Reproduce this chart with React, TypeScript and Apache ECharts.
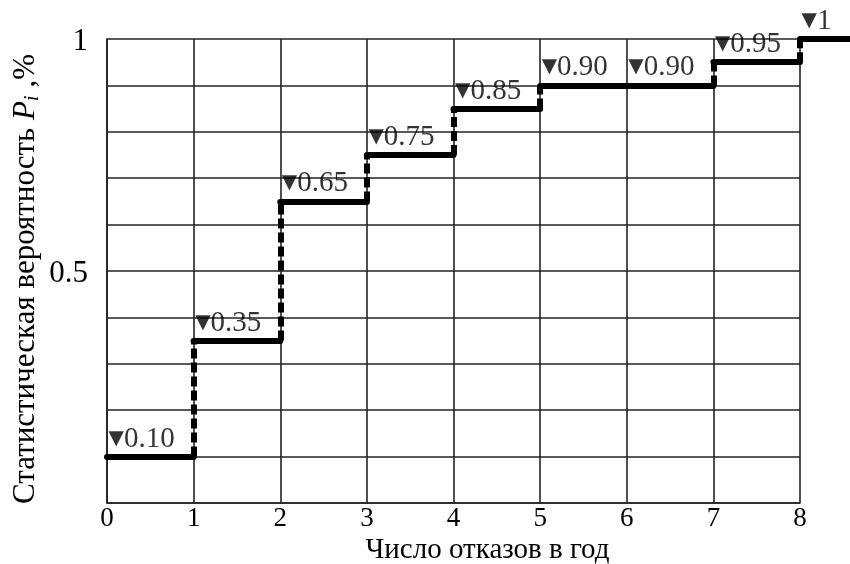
import React, { useEffect, useRef } from "react";
import * as echarts from "echarts";

const failureCounts = [0, 1, 2, 3, 4, 5, 6, 7, 8];
const probabilities = [0.1, 0.35, 0.65, 0.75, 0.85, 0.9, 0.9, 0.95, 1];
const valueLabels = ["0.10", "0.35", "0.65", "0.75", "0.85", "0.90", "0.90", "0.95", "1"];
const lastStepEnd = 8.6;
const xTitle = "Число отказов в год";

const FONT = "'Liberation Serif', 'Times New Roman', serif";

export default function App() {
  const ref = useRef<HTMLDivElement>(null);
  useEffect(() => {
    if (!ref.current) return;
    const chart = echarts.init(ref.current, undefined, { renderer: "svg" });

    const horizontal = failureCounts.map((x, i) => ({
      coords: [
        [x, probabilities[i]],
        [i + 1 < failureCounts.length ? failureCounts[i + 1] : lastStepEnd, probabilities[i]],
      ],
    }));
    const vertical = failureCounts.slice(1).map((x, i) => ({
      coords: [
        [x, probabilities[i]],
        [x, probabilities[i + 1]],
      ],
    }));
    const labelPoints = failureCounts.map((x, i) => ({ value: [x, probabilities[i]], name: valueLabels[i] }));

    chart.setOption({
      animation: false,
      grid: { left: 107, right: 50, top: 39, bottom: 61, outerBoundsMode: "none", containLabel: false },
      xAxis: {
        type: "value",
        min: 0,
        max: 8,
        interval: 1,
        name: xTitle,
        nameLocation: "middle",
        nameGap: 30,
        nameMoveOverlap: false,
        nameTextStyle: { fontFamily: FONT, fontSize: 29, lineHeight: 29, color: "#000", padding: [0, 0, 0, 68] },
        axisLine: { show: true, lineStyle: { color: "#222", width: 1.6 } },
        axisTick: { show: false },
        axisLabel: { fontFamily: FONT, fontSize: 27, lineHeight: 27, color: "#000", margin: 0 },
        splitLine: { show: true, lineStyle: { color: "#222", width: 1.6 } },
      },
      yAxis: {
        type: "value",
        min: 0,
        max: 1,
        interval: 0.1,
        name: "{a|Статистическая вероятность }{p|P}{s|i}{a| ,%}",
        nameLocation: "middle",
        nameGap: 66,
        nameMoveOverlap: false,
        nameTextStyle: {
          fontFamily: FONT,
          color: "#000",
          padding: [0, 16, 0, 0],
          rich: {
            a: { fontFamily: FONT, fontSize: 31, lineHeight: 36, color: "#000" },
            p: { fontFamily: FONT, fontSize: 31, lineHeight: 36, fontStyle: "italic", color: "#000" },
            s: { fontFamily: FONT, fontSize: 21, lineHeight: 22, fontStyle: "italic", verticalAlign: "bottom", color: "#000" },
          },
        },
        axisLine: { show: true, lineStyle: { color: "#222", width: 1.6 } },
        axisTick: { show: false },
        axisLabel: {
          fontFamily: FONT,
          fontSize: 31,
          color: "#000",
          margin: 19,
          formatter: (v: number) => (Math.abs(v - 0.5) < 1e-6 ? "0.5" : Math.abs(v - 1) < 1e-6 ? "1" : ""),
        },
        splitLine: { show: true, lineStyle: { color: "#222", width: 1.6 } },
      },
      series: [
        {
          type: "lines",
          coordinateSystem: "cartesian2d",
          clip: false,
          silent: true,
          lineStyle: { color: "#000", width: 6, type: "solid", cap: "round", opacity: 1 },
          data: horizontal,
          z: 3,
        },
        {
          type: "lines",
          coordinateSystem: "cartesian2d",
          clip: false,
          silent: true,
          lineStyle: { color: "#000", width: 6, type: [10, 4], cap: "butt", opacity: 1 },
          data: vertical,
          z: 3,
        },
        {
          type: "scatter",
          symbolSize: 1,
          itemStyle: { color: "rgba(0,0,0,0)" },
          clip: false,
          silent: true,
          data: labelPoints,
          label: {
            show: true,
            position: "right",
            distance: 1,
            offset: [0, -20],
            formatter: (p: any) => "{t|▼}{v|" + p.name + "}",
            rich: {
              t: { fontFamily: "'DejaVu Sans', sans-serif", fontSize: 20, color: "#000" },
              v: { fontFamily: FONT, fontSize: 29, color: "#000" },
            },
          },
          z: 4,
        },
      ],
    });
    return () => chart.dispose();
  }, []);
  return <div ref={ref} style={{ position: "fixed", left: 0, top: 0, width: 850, height: 564 }} />;
}
